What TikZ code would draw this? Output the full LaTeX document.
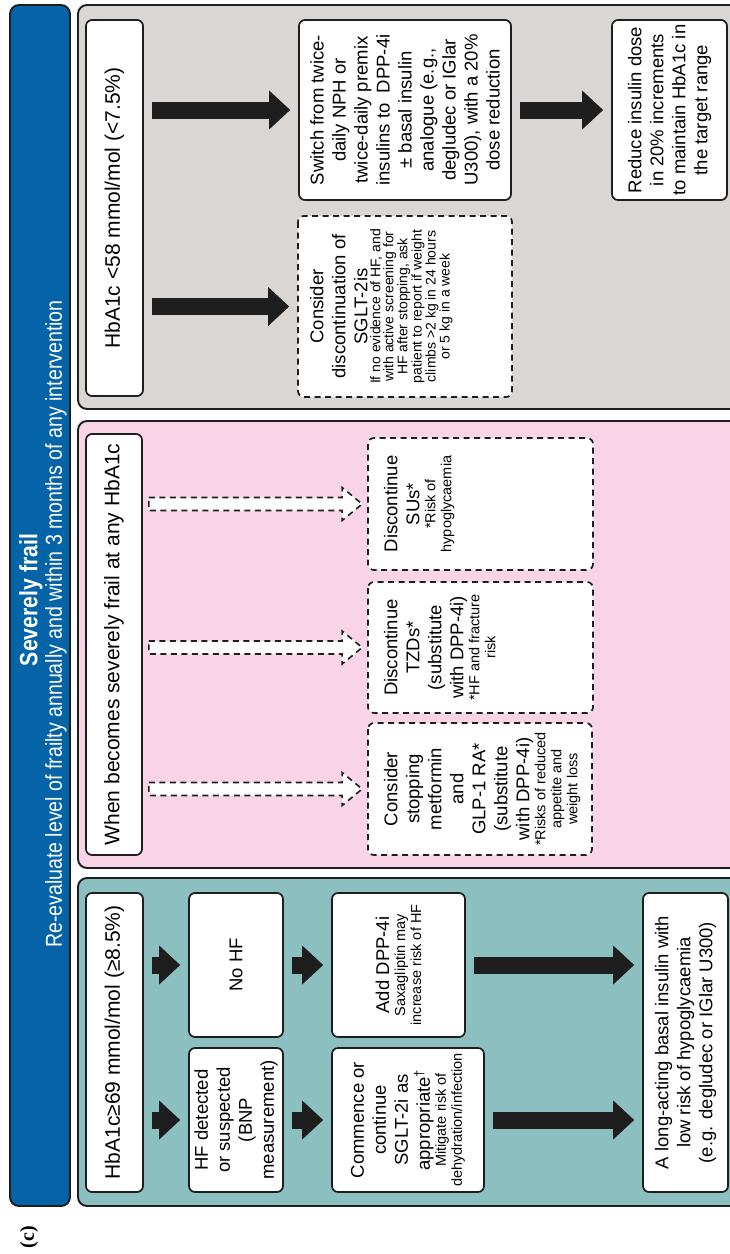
\documentclass[tikz,border=0pt]{standalone}
\usepackage{fontspec}
\setmainfont{Liberation Sans}
\newfontfamily\narrowfont[FakeStretch=0.85]{Liberation Sans}
\newfontfamily\serifc{Liberation Serif}
\usetikzlibrary{arrows.meta,calc}

\definecolor{hdrblue}{RGB}{5,99,168}
\definecolor{tealbg}{RGB}{140,191,192}
\definecolor{pinkbg}{RGB}{249,212,230}
\definecolor{greybg}{RGB}{218,214,211}
\definecolor{inkc}{RGB}{30,30,30}

\newcommand{\headfs}{\fontsize{21}{25}\selectfont}
\newcommand{\mainfs}{\fontsize{18.5}{22}\selectfont}
\newcommand{\subfs}{\fontsize{14.5}{16}\selectfont}
\newcommand{\tinyfs}{\fontsize{14}{13}\selectfont}

%% text block of a box: #1 t/c, #2 depth, #3 length, #4 text
\newcommand{\boxtext}[4]{\begin{minipage}[c][#2][#1]{#3}\centering\mainfs #4\end{minipage}}

%% dashed hollow arrow from #1 to #2
\newcommand{\hollowarrow}[2]{%
  \draw[hollow] ($(#1)+(6,-6.5)$) -- ($(#2)+(-25,-6.5)$) -- ($(#2)+(-25,-16.5)$)
    -- ($(#2)+(-5,0)$) -- ($(#2)+(-25,16.5)$) -- ($(#2)+(-25,6.5)$)
    -- ($(#1)+(6,6.5)$) -- cycle;}

\tikzset{
  panel/.style={draw=inkc, line width=1.9pt, rounded corners=9pt},
  box/.style={draw=inkc, fill=white, line width=1.7pt, rounded corners=6pt, rotate=90, inner sep=0pt},
  dbox/.style={box, dash pattern=on 6pt off 4.5pt},
  blk/.style={draw=inkc, line width=17pt, -{Triangle[length=21pt,width=39pt,line width=0pt]}, shorten <=8pt, shorten >=8pt},
  hollow/.style={draw=inkc, fill=white, line width=1.6pt, dash pattern=on 6pt off 4.5pt},
}

\begin{document}
\begin{tikzpicture}[x=1pt,y=-1pt]
  \useasboundingbox (0,0) rectangle (730,1254);

  %% header
  \draw[panel, fill=hdrblue] (10,5) rectangle (70,1206);
  \node[rotate=90, text=white, font=\narrowfont\bfseries\fontsize{25}{27}\selectfont] (ttl) at (31,600) {Severely frail};
  \node[rotate=90, text=white, font=\narrowfont\fontsize{23}{25}\selectfont] (sub) at (56,624)
    {Re-evaluate level of frailty annually and within 3 months of any intervention};
  \node[rotate=90, font=\serifc\bfseries\fontsize{20}{22}\selectfont] (lab) at (29,1237) {(c)};

  %% panels
  \draw[panel, fill=greybg] (78,5) rectangle (745,409);
  \draw[panel, fill=pinkbg] (78,421) rectangle (745,868);
  \draw[panel, fill=tealbg] (78,878) rectangle (745,1206);

  %% grey panel
  \node[box] (lo) at (114.5,208) {\boxtext{c}{57pt}{376pt}{\headfs HbA1c <58 mmol/mol (<7.5\%)}};
  \node[dbox] (sglt) at (405,306.5) {\boxtext{t}{214pt}{181pt}{\vspace*{12pt}Consider\\discontinuation of\\SGLT-2is\\
    \tinyfs If no evidence of HF, and\\with active screening for\\HF after stopping, ask\\patient to report if weight\\climbs >2 kg in 24 hours\\or 5 kg in a week}};
  \node[box] (sw) at (405,110) {\boxtext{c}{212pt}{180pt}{Switch from twice-\\daily NPH or\\twice-daily premix\\insulins to\ \ DPP-4i\\± basal insulin\\analogue (e.g.,\\degludec or IGlar\\U300), with a 20\%\\dose reduction}};
  \node[box] (red) at (669.5,110) {\boxtext{c}{115pt}{180pt}{Reduce insulin dose\\in 20\% increments\\to maintain HbA1c in\\the target range}};

  \draw[blk] (lo.south |- sw.center) -- (sw.north);
  \draw[blk] (lo.south |- sglt.center) -- (sglt.north);
  \draw[blk] (sw.south) -- (red.north);

  %% pink panel
  \node[box] (when) at (114,644.5) {\boxtext{c}{56pt}{421pt}{\headfs When becomes severely frail at any HbA1c}};
  \node[dbox] (su) at (480.5,504) {\boxtext{t}{225pt}{132pt}{\vspace*{16pt}Discontinue\\SUs*\\
    \subfs *Risk of\\hypoglycaemia}};
  \node[dbox] (tzd) at (480.5,647.5) {\boxtext{t}{225pt}{131pt}{\vspace*{16pt}Discontinue\\TZDs*\\(substitute\\with DPP-4i)\\
    \subfs *HF and fracture\\risk}};
  \node[dbox] (met) at (480,789) {\boxtext{t}{224pt}{132pt}{\vspace*{16pt}Consider\\stopping\\metformin\\and\\GLP-1 RA*\\(substitute\\with DPP-4i)\\
    \subfs *Risks of reduced\\appetite and\\weight loss}};

  \hollowarrow{when.south |- su.center}{su.north}
  \hollowarrow{when.south |- tzd.center}{tzd.north}
  \hollowarrow{when.south |- met.center}{met.north}

  %% teal panel
  \node[box] (hi) at (114.5,1042.5) {\boxtext{c}{57pt}{299pt}{\headfs HbA1c≥69 mmol/mol (≥8.5\%)}};
  \node[box] (hfd) at (236,1120) {\boxtext{c}{94pt}{144pt}{HF detected\\or suspected\\(BNP\\measurement)}};
  \node[box] (nohf) at (236,965) {\boxtext{c}{94pt}{144pt}{No HF}};
  \node[box] (comm) at (408,1120) {\boxtext{c}{152pt}{144pt}{Commence or\\continue\\SGLT-2i as\\appropriate\textsuperscript{†}\\
    \subfs Mitigate risk of\\dehydration/infection}};
  \node[box] (dpp) at (398.5,965) {\boxtext{c}{133pt}{144pt}{Add DPP-4i\\
    \subfs Saxagliptin may\\increase risk of HF}};
  \node[box] (bas) at (685.5,1042.5) {\boxtext{c}{85pt}{299pt}{A long-acting basal insulin with\\low risk of hypoglycaemia\\(e.g. degludec or IGlar U300)}};

  \draw[blk] (hi.south |- hfd.center) -- (hfd.north);
  \draw[blk] (hi.south |- nohf.center) -- (nohf.north);
  \draw[blk] (hfd.south) -- (comm.north);
  \draw[blk] (nohf.south) -- (dpp.north);
  \draw[blk] (dpp.south) -- (bas.north |- dpp.center);
  \draw[blk] (comm.south) -- (bas.north |- comm.center);
\end{tikzpicture}
\end{document}
